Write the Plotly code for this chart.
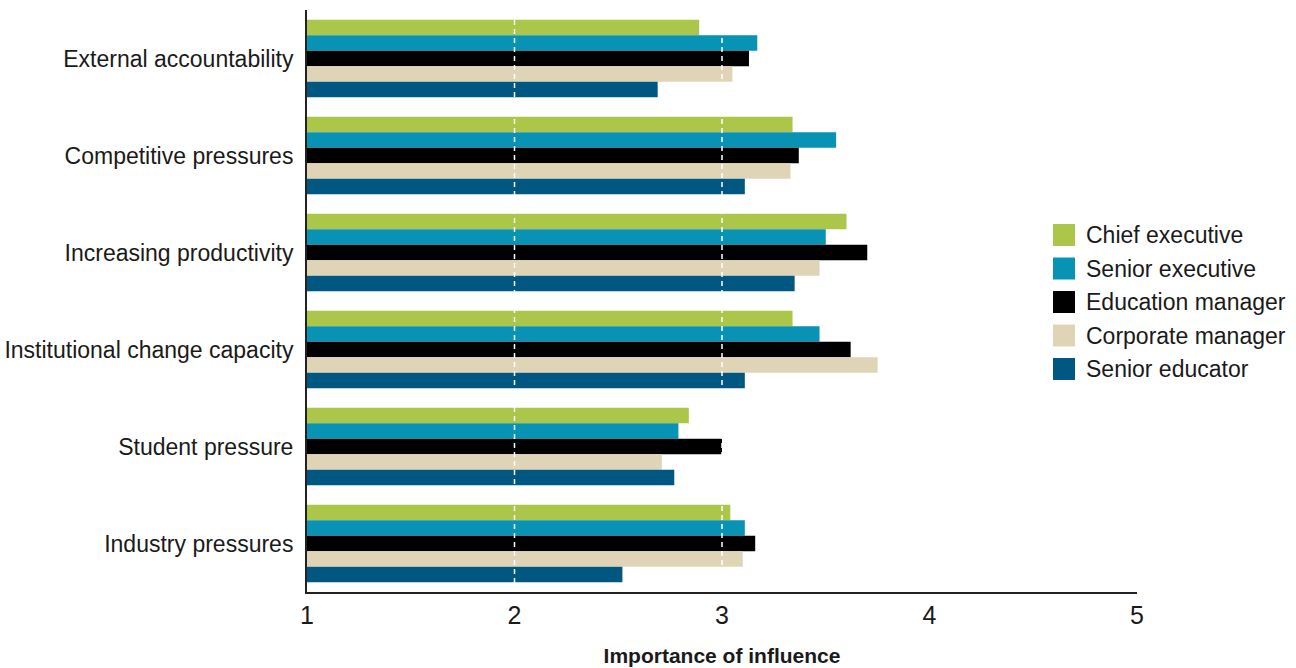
import plotly.graph_objects as go

# Drivers of change, rated by role (1 = low, 5 = high importance)
categories = [
    "External accountability",
    "Competitive pressures",
    "Increasing productivity",
    "Institutional change capacity",
    "Student pressure",
    "Industry pressures",
]
series_names = [
    "Chief executive",
    "Senior executive",
    "Education manager",
    "Corporate manager",
    "Senior educator",
]
chief_executive = [2.89, 3.34, 3.60, 3.34, 2.84, 3.04]
senior_executive = [3.17, 3.55, 3.50, 3.47, 2.79, 3.11]
education_manager = [3.13, 3.37, 3.70, 3.62, 3.00, 3.16]
corporate_manager = [3.05, 3.33, 3.47, 3.75, 2.71, 3.10]
senior_educator = [2.69, 3.11, 3.35, 3.11, 2.77, 2.52]
x_ticks = [1, 2, 3, 4, 5]

series_values = [
    chief_executive,
    senior_executive,
    education_manager,
    corporate_manager,
    senior_educator,
]
colors = ["#abc649", "#0893b5", "#000000", "#dfd4b6", "#005782"]

W, H = 1296, 668
M_L, M_R, M_T, M_B = 307, 159, 10, 76
PW, PH = W - M_L - M_R, H - M_T - M_B

fig = go.Figure()
for name, vals, col in zip(series_names, series_values, colors):
    fig.add_trace(go.Bar(
        y=categories,
        x=vals,
        name=name,
        orientation="h",
        marker=dict(color=col, line=dict(width=0)),
        showlegend=False,
    ))

# White dashed reference lines drawn over the bars
for t in x_ticks[1:-1]:
    fig.add_shape(
        type="line", xref="x", yref="paper",
        x0=t, x1=t, y0=0, y1=1,
        line=dict(color="white", width=1.5, dash="5px,4px"),
        layer="above",
    )

# Legend: square swatches with labels on the right (paper = plot area)
sw = 22
leg_left_px = 1053
leg_first_px = 235
row_px = 33.5
for i, (name, col) in enumerate(zip(series_names, colors)):
    yc_px = leg_first_px + i * row_px
    x0 = (leg_left_px - M_L) / PW
    x1 = (leg_left_px + sw - M_L) / PW
    y0 = 1 - (yc_px + sw / 2 - M_T) / PH
    y1 = 1 - (yc_px - sw / 2 - M_T) / PH
    fig.add_shape(
        type="rect", xref="paper", yref="paper",
        x0=x0, x1=x1, y0=y0, y1=y1,
        fillcolor=col, line=dict(width=0),
    )
    fig.add_annotation(
        xref="paper", yref="paper",
        x=(leg_left_px + sw + 9 - M_L) / PW,
        y=1 - (yc_px - M_T) / PH,
        text=name, showarrow=False,
        xanchor="left", yanchor="middle",
        font=dict(family="Liberation Sans, Arial, sans-serif", size=23, color="#1a1a1a"),
    )

fig.update_layout(
    width=W,
    height=H,
    paper_bgcolor="white",
    plot_bgcolor="white",
    barmode="group",
    bargap=0.2,
    bargroupgap=0,
    margin=dict(l=M_L, r=M_R, t=M_T, b=M_B, autoexpand=False),
    xaxis=dict(
        range=[1, 5],
        tickvals=x_ticks,
        ticktext=[str(t) for t in x_ticks],
        showgrid=False,
        zeroline=False,
        showline=True,
        linecolor="#222222",
        linewidth=2,
        ticks="",
        ticklabelstandoff=0,
        tickfont=dict(family="Liberation Sans Narrow, Arial Narrow, sans-serif", size=25, color="#1a1a1a"),
        title=dict(
            text="<b>Importance of influence</b>",
            font=dict(family="Liberation Sans Narrow, Arial Narrow, sans-serif", size=21, color="#1a1a1a"),
            standoff=20,
        ),
    ),
    yaxis=dict(
        autorange="reversed",
        showgrid=False,
        zeroline=False,
        showline=True,
        linecolor="#222222",
        linewidth=2,
        ticks="",
        ticklabelstandoff=7,
        tickfont=dict(family="Liberation Sans, Arial, sans-serif", size=23, color="#1a1a1a"),
    ),
)

fig.write_html("out.html")
